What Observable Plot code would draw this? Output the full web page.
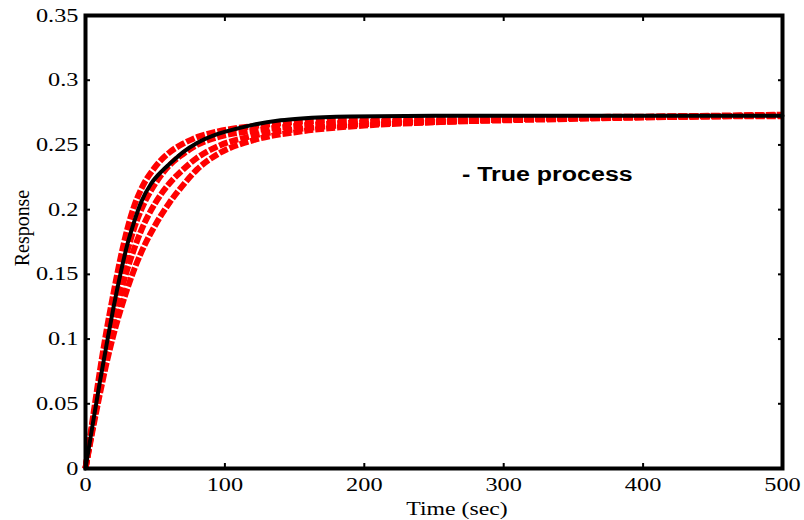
<!DOCTYPE html>
<html><head><meta charset="utf-8">
<script src="https://cdn.jsdelivr.net/npm/d3@7"></script>
<script src="https://cdn.jsdelivr.net/npm/@observablehq/plot@0.6"></script>
<style>body{margin:0;background:#fff}</style>
</head><body><div id="chart"></div>
<script>
// True process response
const trueTime = [0,5,10,15,20,25,30,35,40,47,55,60,70,80,95,110,120,140,155,190,250,500];
const trueResp = [0,0.033,0.065,0.095,0.124,0.150,0.173,0.191,0.206,0.220,0.230,0.235,0.2445,0.2515,0.2585,0.263,0.2655,0.2690,0.2705,0.2720,0.2725,0.2725];
// Model responses (red dashed)
const modelTime = [0,5,10,15,20,25,30,35,40,50,60,70,80,95,120,155,200,250,300,400,500];
const model1 = [0,0.037,0.073,0.106,0.135,0.162,0.185,0.203,0.216,0.233,0.244,0.251,0.256,0.2605,0.2645,0.2680,0.2697,0.2705,0.2712,0.2718,0.2722];
const model2 = [0,0.034,0.066,0.096,0.123,0.148,0.168,0.186,0.200,0.220,0.234,0.243,0.250,0.256,0.261,0.265,0.2675,0.2688,0.2700,0.2716,0.2728];
const model3 = [0,0.031,0.060,0.088,0.113,0.135,0.154,0.170,0.184,0.205,0.220,0.231,0.240,0.249,0.257,0.2625,0.2660,0.2677,0.2690,0.2712,0.2730];
const model4 = [0,0.029,0.056,0.081,0.103,0.122,0.139,0.154,0.167,0.188,0.205,0.219,0.231,0.243,0.2535,0.2605,0.2650,0.2675,0.2695,0.2716,0.2734];
const xTicks = [0,100,200,300,400,500];
const xTickLabels = ["0","100","200","300","400","500"];
const yTicks = [0,0.05,0.1,0.15,0.2,0.25,0.3,0.35];
const yTickLabels = ["0","0.05","0.1","0.15","0.2","0.25","0.3","0.35"];
const xLabel = "Time (sec)";
const yLabel = "Response";
const noteText = "- True process";

const trueRows = trueTime.map((t, i) => ({t, v: trueResp[i]}));
const modelRows = [model1, model2, model3, model4].flatMap((s, k) => modelTime.map((t, i) => ({t, v: s[i], k})));

const serif = "'Liberation Serif','Times New Roman',serif";
const plot = Plot.plot({
  width: 804, height: 520,
  marginLeft: 85, marginRight: 22, marginTop: 15, marginBottom: 52,
  style: {fontFamily: serif, fontSize: "19px", background: "#fff", color: "#000"},
  x: {domain: [0, 500]},
  y: {domain: [0, 0.35]},
  marks: [
    Plot.line(modelRows, {x: "t", y: "v", z: "k", stroke: "#ff0000", strokeWidth: 6, strokeDasharray: "9,2", strokeLinecap: "butt", strokeLinejoin: "miter", curve: "monotone-x"}),
    Plot.line(trueRows, {x: "t", y: "v", stroke: "#000", strokeWidth: 4, curve: "monotone-x"}),
    Plot.axisX(xTicks, {anchor: "bottom", tickSize: -5, strokeWidth: 2, tickFormat: () => "", label: null}),
    Plot.axisX(xTicks, {anchor: "top", tickSize: -5, strokeWidth: 2, tickFormat: () => "", label: null}),
    Plot.axisY(yTicks, {anchor: "left", tickSize: -5, strokeWidth: 2, tickFormat: () => "", label: null}),
    Plot.axisY(yTicks, {anchor: "right", tickSize: -5, strokeWidth: 2, tickFormat: () => "", label: null}),
    Plot.axisX(xTicks, {anchor: "bottom", tickSize: 0, tickPadding: 9, tickFormat: d => xTickLabels[xTicks.indexOf(d)], label: null}),
    Plot.axisY(yTicks, {anchor: "left", tickSize: 0, tickPadding: 7, tickFormat: d => yTickLabels[yTicks.indexOf(d)], label: null}),
    Plot.frame({stroke: "#000", strokeWidth: 4}),
    Plot.text([xLabel], {frameAnchor: "bottom", text: d => d, lineAnchor: "middle", dx: 23, dy: 40, fontSize: 19}),
    Plot.text([yLabel], {frameAnchor: "left", text: d => d, textAnchor: "middle", lineAnchor: "middle", rotate: -90, dx: -63, dy: -14, fontSize: 19}),
    Plot.text([noteText], {x: 270, y: 0.227, text: d => d, textAnchor: "start", fontFamily: "'Liberation Sans',Arial,sans-serif", fontWeight: "bold", fontSize: 20})
  ]
});
document.getElementById("chart").appendChild(plot);
// horizontally stretched text as in the reference image
d3.select(plot).selectAll('g[aria-label="x-axis tick label"] text, g[aria-label="y-axis tick label"] text').each(function() {
  const t = this.getAttribute("transform") || "";
  this.setAttribute("transform", t + " scale(1.28,1)");
});
d3.select(plot).selectAll('g[aria-label="text"] text').each(function() {
  const t = this.getAttribute("transform") || "";
  if (t.includes("rotate")) this.setAttribute("transform", t + " scale(1.05,1.1)");
  else this.setAttribute("transform", t + " scale(1.25,1)");
});
</script>
</body></html>
